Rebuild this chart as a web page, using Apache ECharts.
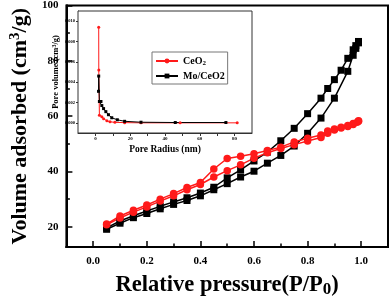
<!DOCTYPE html>
<html><head><meta charset="utf-8">
<script src="https://cdn.jsdelivr.net/npm/echarts@6/dist/echarts.min.js"></script>
<style>html,body{margin:0;padding:0;background:#fff}#c{width:391px;height:303px}</style>
</head><body><div id="c"></div>
<script>
// Main isotherm data (Relative pressure P/P0 vs volume adsorbed)
const moAdsX = [0.05,0.1,0.15,0.2,0.25,0.3,0.35,0.4,0.45,0.5,0.55,0.6,0.65,0.7,0.75,0.8,0.85,0.9,0.95,0.97,0.98,0.99];
const moAdsY = [19.1,21.3,23.3,24.8,26.5,28.1,29.5,31.2,33.4,35.6,38.0,40.1,43.0,45.8,49.2,53.8,59.3,66.5,76.2,82.0,84.5,86.5];
const moDesX = [0.99,0.98,0.97,0.95,0.925,0.9,0.875,0.85,0.8,0.75,0.7,0.65,0.6,0.55,0.5,0.45,0.4,0.35,0.3,0.25,0.2,0.15,0.1,0.05];
const moDesY = [87.0,85.5,84.0,80.9,76.6,73.2,70.0,66.5,60.9,55.6,51.1,47.0,43.8,40.6,37.7,34.3,32.2,30.5,29.0,27.4,25.7,24.0,22.1,19.6];
const ceAdsX = [0.05,0.1,0.15,0.2,0.25,0.3,0.35,0.4,0.45,0.5,0.55,0.6,0.65,0.7,0.75,0.8,0.85,0.875,0.9,0.925,0.95,0.97,0.985,0.99];
const ceAdsY = [20.7,23.2,25.3,27.2,29.3,31.2,33.4,35.3,38.0,40.3,42.4,44.8,46.8,48.3,49.7,51.0,52.3,53.8,55.0,55.7,56.3,57.0,57.8,58.2];
const ceDesX = [0.99,0.97,0.95,0.925,0.9,0.875,0.85,0.8,0.75,0.7,0.65,0.6,0.55,0.5,0.45,0.4,0.35,0.3,0.25,0.2,0.15,0.1,0.05];
const ceDesY = [58.3,57.3,56.6,56.0,55.4,54.6,53.2,52.0,50.7,48.8,47.6,46.4,45.5,44.7,40.9,36.0,34.2,32.0,30.0,27.9,26.0,23.9,21.0];
// Inset pore size distribution
const ceRadius = [1.9,1.95,2.3,3.7,4.7,6.6,8.4,11.2,16.8,26.2,48.7,81.5];
const cePoreVol = [0.0094,0.0052,0.00075,0.0006,0.0004,0.0002,0.0001,0.00005,0.00002,0.0,0.0,0.0];
const moRadius = [1.8,1.9,2.3,3.2,3.7,4.7,6.0,7.5,9.4,12.6,16.8,26.2,45.9,75.0];
const moPoreVol = [0.0031,0.0046,0.0021,0.0021,0.0017,0.0014,0.0011,0.0008,0.0005,0.0003,0.00015,0.00006,0.00003,0.00003];
// Tick values
const mainXLabels = [0.0,0.2,0.4,0.6,0.8,1.0];
const mainXMinor = [0.1,0.3,0.5,0.7,0.9];
const mainYLabels = [20,40,60,80,100];
const mainYMinor = [30,50,70,90];
const insetXLabels = [0,20,40,60,80];
const insetXMinor = [10,30,50,70];
const insetYLabels = [0,0.002,0.004,0.006,0.008,0.010];

const zip = (a,b) => a.map((v,i)=>[v,b[i]]);
const SERIF = 'Liberation Serif';
const RED = '#ff1a1a';

const chart = echarts.init(document.getElementById('c'), null, {renderer:'canvas'});
const mainTickLbl = {fontFamily:SERIF, fontWeight:'bold', fontSize:11, color:'#000'};

const option = {
  animation:false,
  backgroundColor:'#fff',
  grid:[
    {left:45, top:5, right:3, bottom:47, show:true, borderColor:'#000', borderWidth:2},
    {left:78, top:11, right:139, bottom:170, show:true, borderColor:'#333', borderWidth:1, backgroundColor:'#fff', z:5}
  ],
  xAxis:[
    {gridIndex:0, type:'value', min:-0.1, max:1.1, position:'bottom',
     axisLine:{show:true, onZero:false, lineStyle:{color:'#000', width:2}},
     splitLine:{show:false},
     axisTick:{show:true, inside:true, length:6, lineStyle:{width:1.5,color:'#000'}, customValues:mainXLabels},
     axisLabel:{customValues:mainXLabels, formatter:v=>v.toFixed(1), margin:9, ...mainTickLbl},
     name:'{a|Relative pressure(P/P}{s|0}{a|)}', nameLocation:'middle', nameGap:26,
     nameTextStyle:{rich:{a:{fontFamily:SERIF, fontWeight:'bold', fontSize:22.5, color:'#000'}, s:{fontFamily:SERIF, fontWeight:'bold', fontSize:17, color:'#000', verticalAlign:'bottom', padding:[8,0,0,0]}}}
    },
    {gridIndex:1, type:'value', min:-10, max:90, position:'bottom',
     axisLine:{show:true, onZero:false, lineStyle:{color:'#333', width:1}},
     splitLine:{show:false},
     axisTick:{show:true, length:3, lineStyle:{color:'#333'}, customValues:insetXLabels.concat(insetXMinor)},
     axisLabel:{customValues:insetXLabels, margin:3, fontFamily:SERIF, fontWeight:'bold', fontSize:5, color:'#000'},
     name:'Pore Radius (nm)', nameLocation:'middle', nameGap:12,
     nameTextStyle:{fontFamily:SERIF, fontWeight:'bold', fontSize:9.5, color:'#000'}
    },
    {gridIndex:0, type:'value', min:-0.1, max:1.1, position:'bottom',
     axisLine:{show:true, onZero:false, lineStyle:{color:'#000', width:2}}, splitLine:{show:false},
     axisLabel:{show:true, customValues:mainXMinor, color:'rgba(0,0,0,0)', fontSize:8},
     axisTick:{show:true, inside:true, length:3.5, lineStyle:{width:1.5,color:'#000'}, customValues:mainXMinor}
    }
  ],
  yAxis:[
    {gridIndex:0, type:'value', min:12.7, max:100, position:'left',
     axisLine:{show:true, onZero:false, lineStyle:{color:'#000', width:2}},
     splitLine:{show:false},
     axisTick:{show:true, inside:true, length:6, lineStyle:{width:1.5,color:'#000'}, customValues:mainYLabels},
     axisLabel:{customValues:mainYLabels, margin:8, ...mainTickLbl},
     name:'{a|Volume adsorbed (cm}{s|3}{a|/g)}', nameLocation:'middle', nameGap:27,
     nameTextStyle:{rich:{a:{fontFamily:SERIF, fontWeight:'bold', fontSize:22, color:'#000'}, s:{fontFamily:SERIF, fontWeight:'bold', fontSize:15, color:'#000', verticalAlign:'top', padding:[0,0,9,0]}}}
    },
    {gridIndex:1, type:'value', min:-0.001, max:0.011, position:'left',
     axisLine:{show:true, onZero:false, lineStyle:{color:'#333', width:1}},
     splitLine:{show:false},
     axisTick:{show:true, length:2, lineStyle:{color:'#333'}, customValues:insetYLabels},
     axisLabel:{customValues:insetYLabels, formatter:v=>v.toFixed(3), margin:3, fontFamily:SERIF, fontWeight:'bold', fontSize:4.5, color:'#000'},
     name:'{a|Pore volume (cm}{s|3}{a|/g)}', nameLocation:'middle', nameGap:18,
     nameTextStyle:{rich:{a:{fontFamily:SERIF, fontWeight:'bold', fontSize:8.5, color:'#000'}, s:{fontFamily:SERIF, fontWeight:'bold', fontSize:6, color:'#000', verticalAlign:'top', padding:[0,0,3,0]}}}
    },
    {gridIndex:0, type:'value', min:12.7, max:100, position:'left',
     axisLine:{show:true, onZero:false, lineStyle:{color:'#000', width:2}}, splitLine:{show:false},
     axisLabel:{show:true, customValues:mainYMinor, color:'rgba(0,0,0,0)', fontSize:8},
     axisTick:{show:true, inside:true, length:3.5, lineStyle:{width:1.5,color:'#000'}, customValues:mainYMinor}
    }
  ],
  legend:{
    data:['CeO2','Mo/CeO2'], orient:'vertical', left:152, top:52, width:68,
    itemWidth:22, itemHeight:6, itemGap:4, padding:[4,3,3,3],
    borderColor:'#777', borderWidth:1, backgroundColor:'#fff', z:20,
    formatter: n => n==='CeO2' ? '{a|CeO}{s|2}' : '{a|Mo/CeO2}',
    textStyle:{rich:{a:{fontFamily:SERIF, fontWeight:'bold', fontSize:10, color:'#000'}, s:{fontFamily:SERIF, fontWeight:'bold', fontSize:7, color:'#000', verticalAlign:'bottom', padding:[5,0,0,0]}}}
  },
  series:[
    {name:'CeO2', type:'line', xAxisIndex:1, yAxisIndex:1, data:zip(ceRadius,cePoreVol), symbol:'circle', symbolSize:3, itemStyle:{color:RED}, lineStyle:{color:RED, width:1}, z:10},
    {name:'Mo/CeO2', type:'line', xAxisIndex:1, yAxisIndex:1, data:zip(moRadius,moPoreVol), symbol:'rect', symbolSize:3, itemStyle:{color:'#000'}, lineStyle:{color:'#000', width:1}, z:10},
    {name:'Mo ads', type:'line', xAxisIndex:0, yAxisIndex:0, data:zip(moAdsX,moAdsY), symbol:'rect', symbolSize:7, itemStyle:{color:'#000'}, lineStyle:{color:'#000', width:1.5}},
    {name:'Mo des', type:'line', xAxisIndex:0, yAxisIndex:0, data:zip(moDesX,moDesY), symbol:'rect', symbolSize:7, itemStyle:{color:'#000'}, lineStyle:{color:'#000', width:1.5}},
    {name:'Ce ads', type:'line', xAxisIndex:0, yAxisIndex:0, data:zip(ceAdsX,ceAdsY), symbol:'circle', symbolSize:7.5, itemStyle:{color:RED}, lineStyle:{color:RED, width:1.5}},
    {name:'Ce des', type:'line', xAxisIndex:0, yAxisIndex:0, data:zip(ceDesX,ceDesY), symbol:'circle', symbolSize:7.5, itemStyle:{color:RED}, lineStyle:{color:RED, width:1.5}}
  ]
};
chart.setOption(option);
</script>
</body></html>
